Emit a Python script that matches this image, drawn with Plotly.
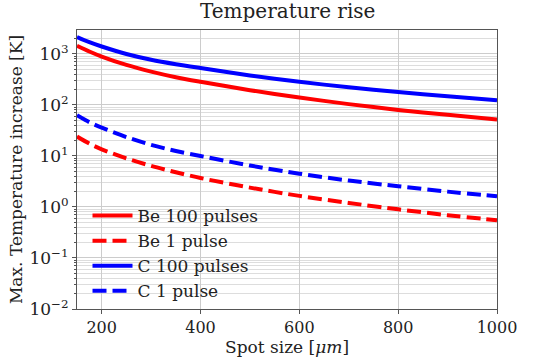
import plotly.graph_objects as go

spot_size = [150, 175, 200, 250, 300, 350, 400, 500, 600, 700, 800, 900, 1000]
be_100 = [1450, 1120, 890, 610, 450, 350, 285, 195, 140, 104, 80, 64, 52]
be_1 = [24, 17.5, 13.5, 9.0, 6.4, 4.8, 3.7, 2.4, 1.65, 1.2, 0.9, 0.69, 0.55]
c_100 = [2150, 1700, 1400, 1000, 770, 630, 530, 380, 285, 222, 180, 148, 124]
c_1 = [63, 46, 36, 23.5, 16.5, 12.5, 10, 6.5, 4.5, 3.3, 2.55, 2.0, 1.62]

x_ticks = [200, 400, 600, 800, 1000]
y_ticks = [0.01, 0.1, 1, 10, 100, 1000]
y_ticktext = ["10<sup>−2</sup>", "10<sup>−1</sup>", "10<sup>0</sup>",
              "10<sup>1</sup>", "10<sup>2</sup>", "10<sup>3</sup>"]

serif = "DejaVu Serif"
fig = go.Figure()
series = [
    ("Be 100 pulses", be_100, "#ff0000", "solid"),
    ("Be 1 pulse", be_1, "#ff0000", "14px,6px"),
    ("C 100 pulses", c_100, "#0000ff", "solid"),
    ("C 1 pulse", c_1, "#0000ff", "14px,6px"),
]
for name, ys, col, dash in series:
    fig.add_trace(go.Scatter(x=spot_size, y=ys, mode="lines", name=name,
                             line=dict(color=col, width=4, dash=dash, shape="spline", smoothing=0.8)))

fig.update_layout(
    width=548, height=363,
    margin=dict(l=77, r=51, t=30, b=46),
    paper_bgcolor="white", plot_bgcolor="white",
    font=dict(family=serif, size=17, color="#222"),
    title=dict(text="Temperature rise", x=0.525, xanchor="center", y=0.99, yanchor="top",
               font=dict(family=serif, size=20, color="#222")),
    legend=dict(x=0.025, y=0.0, xanchor="left", yanchor="bottom",
                bgcolor="rgba(0,0,0,0)", font=dict(family=serif, size=17, color="#222"),
                tracegroupgap=0, itemwidth=40),
    showlegend=True,
)
fig.update_xaxes(
    range=[150, 1000], tickvals=x_ticks,
    showgrid=True, gridcolor="#cccccc", gridwidth=1,
    showline=True, linecolor="#555", linewidth=1, mirror=True,
    ticks="outside", ticklen=4, tickcolor="#555",
    tickfont=dict(family=serif, size=16, color="#222"),
    title=dict(text="Spot size [<i>μm</i>]", font=dict(family=serif, size=17, color="#222"), standoff=2),
    zeroline=False,
)
fig.update_yaxes(
    type="log", range=[-2, 3.47], tickvals=y_ticks, ticktext=y_ticktext,
    showgrid=True, gridcolor="#cccccc", gridwidth=1,
    minor=dict(showgrid=True, gridcolor="#dddddd", gridwidth=1, ticks="outside", ticklen=2, tickcolor="#555",
               tickvals=[m * 10 ** e for e in range(-2, 4) for m in range(2, 10)]),
    showline=True, linecolor="#555", linewidth=1, mirror=True,
    ticks="outside", ticklen=4, tickcolor="#555",
    tickfont=dict(family=serif, size=17, color="#222"),
    title=dict(text="Max. Temperature increase [K]", font=dict(family=serif, size=17, color="#222"), standoff=2),
    zeroline=False,
)
fig.write_html("out.html")
